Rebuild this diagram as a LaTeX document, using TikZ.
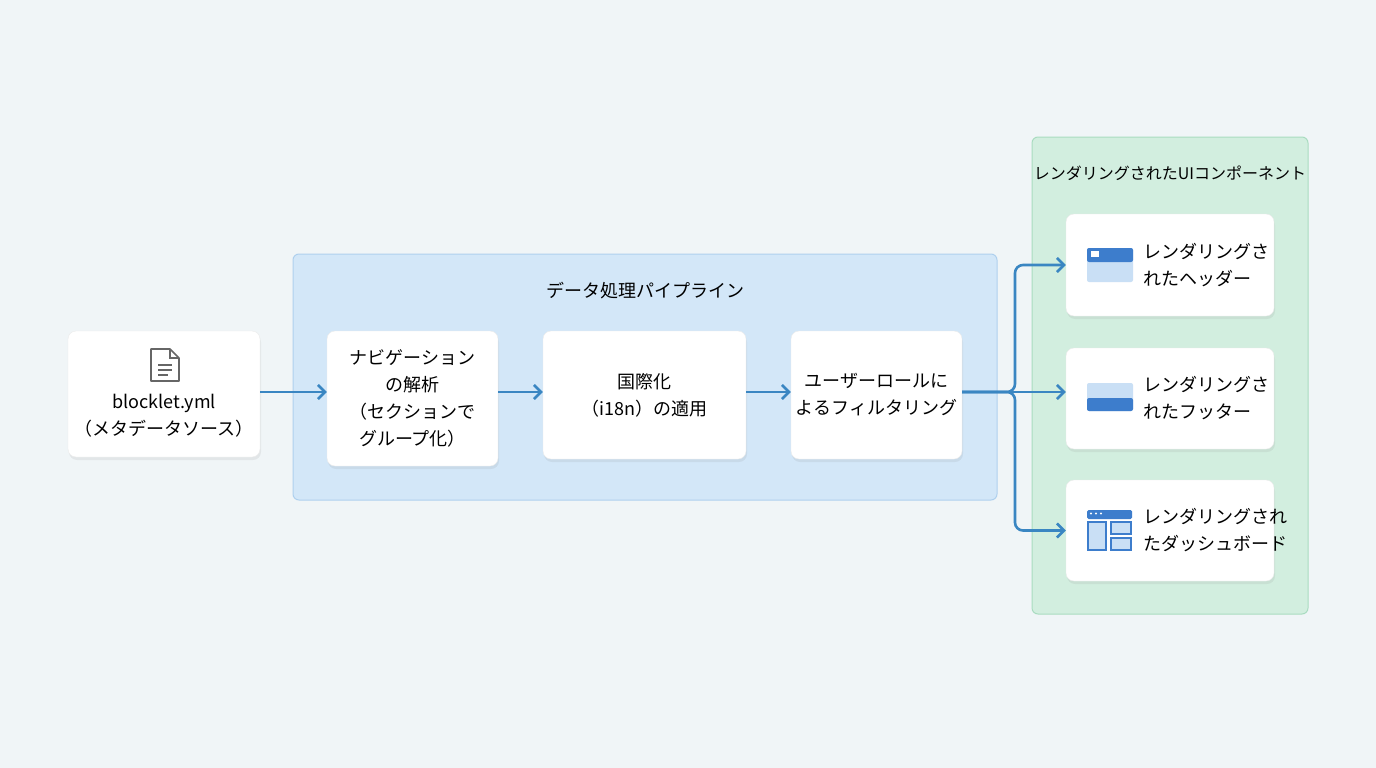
\documentclass[tikz,border=0pt]{standalone}
\usepackage{fontspec}
\setmainfont{Noto Sans CJK JP}
\usepackage{tikz}
\usetikzlibrary{arrows.meta,positioning,shadows}
\definecolor{bgcol}{HTML}{F0F5F7}
\definecolor{pipefill}{HTML}{D3E7F8}
\definecolor{pipedraw}{HTML}{AFD0EE}
\definecolor{greenfill}{HTML}{D2EEDF}
\definecolor{greendraw}{HTML}{A9DCC0}
\definecolor{arrowcol}{HTML}{3A86C2}
\definecolor{iconblue}{HTML}{3D7DCC}
\definecolor{iconlight}{HTML}{C9DFF5}
\tikzset{
  card/.style={draw=black!8,fill=white,rounded corners=8pt,align=center,
    font=\fontsize{18}{27}\selectfont,drop shadow={opacity=0.12,shadow xshift=1pt,shadow yshift=-3pt}},
  flow/.style={-{Straight Barb[length=7pt,width=14pt]},draw=arrowcol,line width=2.6pt},
  group/.style={rounded corners=6pt,line width=1pt},
}
\begin{document}
\begin{tikzpicture}[x=1pt,y=-1pt]
  \fill[bgcol] (0,0) rectangle (1376,768);
  \useasboundingbox (0,0) rectangle (1376,768);
  % containers
  \draw[group,fill=pipefill,draw=pipedraw] (293,254) rectangle (997,500);
  \node[font=\fontsize{18}{20}\selectfont] (pipelabel) at (645,291) {データ処理パイプライン};
  \draw[group,fill=greenfill,draw=greendraw] (1032,137) rectangle (1308,614);
  \node[font=\fontsize{16}{20}\selectfont] (uilabel) at (1170,173) {レンダリングされたUIコンポーネント};
  % cards
  \node[card,minimum width=192pt,minimum height=126pt] (src) at (164,394) {};
  \node[font=\fontsize{18}{27}\selectfont,align=center] (srctext) at (164,416) {blocklet.yml\\（メタデータソース）};
  \node[card,minimum width=171pt,minimum height=135pt] (nav) at (412.5,398.5) {ナビゲーション\\の解析\\（セクションで\\グループ化）};
  \node[card,minimum width=203pt,minimum height=128pt] (intl) at (644.5,395) {国際化\\（i18n）の適用};
  \node[card,minimum width=171pt,minimum height=128pt] (role) at (876.5,395) {ユーザーロールに\\よるフィルタリング};
  \node[card,minimum width=208pt,minimum height=102pt] (hdr) at (1170,265) {};
  \node[card,minimum width=208pt,minimum height=101pt] (ftr) at (1170,398.5) {};
  \node[card,minimum width=208pt,minimum height=101pt] (dash) at (1170,530.5) {};
  \node[font=\fontsize{18}{27}\selectfont,align=left,anchor=west] (hdrtext) at (1140,265) {レンダリングさ\\れたヘッダー};
  \node[font=\fontsize{18}{27}\selectfont,align=left,anchor=west] (ftrtext) at (1140,398.5) {レンダリングさ\\れたフッター};
  \node[font=\fontsize{18}{27}\selectfont,align=left,anchor=west] (dashtext) at (1140,530.5) {レンダリングされ\\たダッシュボード};
  % file icon
  \draw[black!60,line width=1.6pt,line join=round] (151,349) -- (170,349) -- (179,358) -- (179,381) -- (151,381) -- cycle;
  \draw[black!60,line width=1.6pt] (170,349) -- (170,358) -- (179,358);
  \foreach \yy/\len in {365/20,370/20,375/14} \draw[black!60,line width=1.6pt] (158,\yy) -- ++(\len*0.7,0);
  % header icon
  \fill[iconlight,rounded corners=2pt] (1087,248) rectangle (1133,282);
  \fill[iconblue,rounded corners=2pt] (1087,248) rectangle (1133,262);
  \fill[white] (1091,251) rectangle (1099,257);
  % footer icon
  \fill[iconlight,rounded corners=2pt] (1087,383) rectangle (1133,411);
  \fill[iconblue,rounded corners=2pt] (1087,398) rectangle (1133,411);
  % dashboard icon
  \fill[iconblue,rounded corners=1.5pt] (1087,510) rectangle (1132,519);
  \foreach \dx in {1091,1096,1101} \fill[white] (\dx,513.5) circle (1.2pt);
  \draw[iconblue,line width=1.8pt,fill=iconlight] (1088,522) rectangle (1106,550);
  \draw[iconblue,line width=1.8pt,fill=iconlight] (1111,522) rectangle (1131,534);
  \draw[iconblue,line width=1.8pt,fill=iconlight] (1111,538) rectangle (1131,550);
  % connectors
  \coordinate (row) at (0,392);
  \coordinate (split) at (1015,392);
  \draw[flow] (src.east |- row) -- (nav.west |- row);
  \draw[flow] (nav.east |- row) -- (intl.west |- row);
  \draw[flow] (intl.east |- row) -- (role.west |- row);
  \draw[flow,rounded corners=8pt] (role.east |- row) -- (split) |- (hdr.west);
  \draw[flow] (role.east |- row) -- (ftr.west |- row);
  \draw[flow,rounded corners=8pt] (role.east |- row) -- (split) |- (dash.west);
\end{tikzpicture}
\end{document}
